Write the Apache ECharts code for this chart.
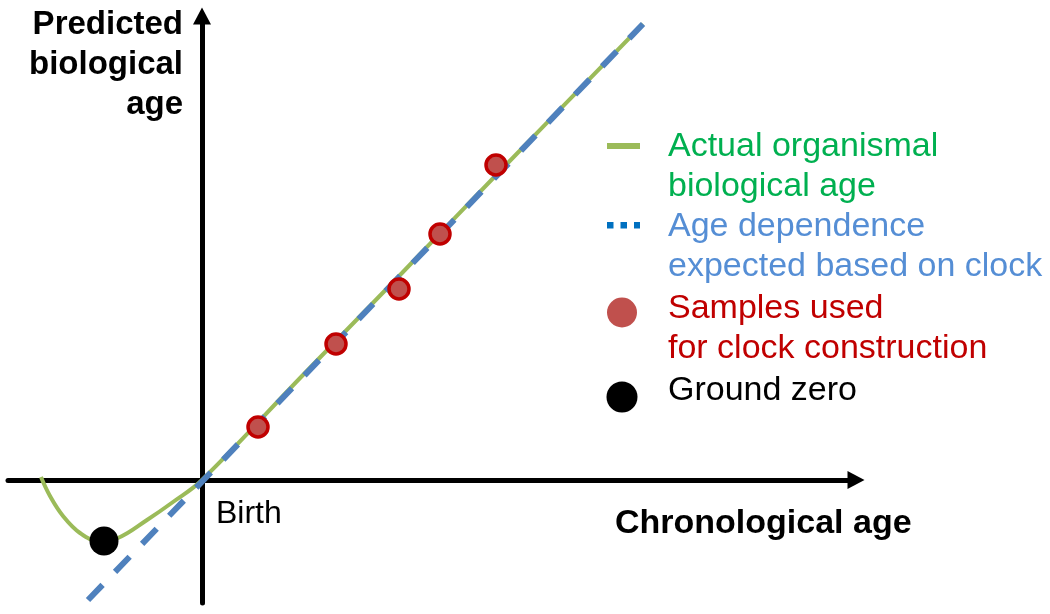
<!DOCTYPE html>
<html>
<head>
<meta charset="utf-8">
<script src="https://cdn.jsdelivr.net/npm/echarts@6/dist/echarts.min.js"></script>
<style>
html,body{margin:0;padding:0;background:#fff;}
#chart{width:1050px;height:614px;}
</style>
</head>
<body>
<div id="chart"></div>
<script>
// ---- data (arbitrary units; 0,0 = birth) ----
const curveX = [-16.1, -15.2, -13.9, -12.2, -10.3, -8.4, -5.5, -2.9, 0, 10, 20, 30, 44.1];
const curveY = [0.3, -1.6, -3.6, -5.3, -6.1, -5.8, -4.0, -2.2, 0, 10.4, 20.7, 31.1, 45.6];
const clockX = [-11.4, 44.1];
const clockY = [-12.0, 45.6];
const sampleX = [5.6, 13.4, 19.7, 23.8, 29.4];
const sampleY = [5.3, 13.6, 19.1, 24.6, 31.5];
const groundZeroX = [-9.8];
const groundZeroY = [-6.1];
const xRange = [-19.4, 65.4];
const yRange = [-12.3, 46.4];
const legendLabels = [
  'Actual organismal\nbiological age',
  'Age dependence\nexpected based on clock',
  'Samples used\nfor clock construction',
  'Ground zero'
];
const xTitle = 'Chronological age';
const yTitle = 'Predicted\nbiological\nage';
const originLabel = 'Birth';

const zip = (a, b) => a.map((v, i) => [v, b[i]]);
const FONT = '"Liberation Sans", Arial, sans-serif';

const chart = echarts.init(document.getElementById('chart'), null, {renderer: 'canvas'});

const axisCommon = {
  type: 'value',
  axisLine: {show: true, onZero: true, symbol: ['none', 'triangle'], symbolSize: [18, 17],
    lineStyle: {color: '#000', width: 5}},
  axisTick: {show: false},
  axisLabel: {show: false},
  splitLine: {show: false}
};

const textStyleBase = {fontFamily: FONT, fontSize: 34, lineHeight: 40};

chart.setOption({
  animation: false,
  backgroundColor: '#fff',
  grid: {left: 8, right: 194, top: 16, bottom: 11, containLabel: false},
  xAxis: Object.assign({}, axisCommon, {min: xRange[0], max: xRange[1]}),
  yAxis: Object.assign({}, axisCommon, {min: yRange[0], max: yRange[1]}),
  series: [
    {
      name: 'Actual organismal biological age',
      type: 'line',
      data: zip(curveX, curveY),
      smooth: 0.4,
      showSymbol: false,
      lineStyle: {color: '#9bbb59', width: 4},
      z: 2
    },
    {
      name: 'Age dependence expected based on clock',
      type: 'line',
      data: zip(clockX, clockY),
      showSymbol: false,
      lineStyle: {color: '#4f81bd', width: 6, type: [21, 18]},
      z: 3
    },
    {
      name: 'Samples used for clock construction',
      type: 'scatter',
      data: zip(sampleX, sampleY),
      symbolSize: 20,
      itemStyle: {color: '#c0504d', borderColor: '#c00000', borderWidth: 3.5, opacity: 1},
      z: 4
    },
    {
      name: 'Ground zero',
      type: 'scatter',
      data: zip(groundZeroX, groundZeroY),
      symbolSize: 29,
      itemStyle: {color: '#000', opacity: 1},
      z: 4
    }
  ],
  graphic: [
    // axis titles
    {type: 'text', x: 183, y: 4.5, z: 10,
      style: Object.assign({}, textStyleBase, {text: yTitle, fontSize: 33, fontWeight: 'bold', fill: '#000', align: 'right', verticalAlign: 'top'})},
    {type: 'text', x: 615, y: 503.5, z: 10,
      style: Object.assign({}, textStyleBase, {text: xTitle, fontWeight: 'bold', fill: '#000', align: 'left', verticalAlign: 'top'})},
    {type: 'text', x: 216, y: 494.5, z: 10,
      style: Object.assign({}, textStyleBase, {text: originLabel, fontSize: 32, fill: '#000', align: 'left', verticalAlign: 'top'})},
    // legend icons
    {type: 'rect', shape: {x: 607, y: 143, width: 33, height: 6}, style: {fill: '#9bbb59'}},
    {type: 'rect', shape: {x: 607, y: 222, width: 6.5, height: 6.5}, style: {fill: '#0070c0'}},
    {type: 'rect', shape: {x: 620.5, y: 222, width: 6.5, height: 6.5}, style: {fill: '#0070c0'}},
    {type: 'rect', shape: {x: 634, y: 222, width: 6, height: 6.5}, style: {fill: '#0070c0'}},
    {type: 'circle', shape: {cx: 622, cy: 312.5, r: 15}, style: {fill: '#c0504d'}},
    {type: 'circle', shape: {cx: 622, cy: 397, r: 15.5}, style: {fill: '#000'}},
    // legend texts
    {type: 'text', x: 668, y: 126.8,
      style: Object.assign({}, textStyleBase, {text: legendLabels[0], fill: '#00b050', align: 'left', verticalAlign: 'top'})},
    {type: 'text', x: 668, y: 206.8,
      style: Object.assign({}, textStyleBase, {text: legendLabels[1], fill: '#558ed5', align: 'left', verticalAlign: 'top'})},
    {type: 'text', x: 668, y: 288.5,
      style: Object.assign({}, textStyleBase, {text: legendLabels[2], fill: '#c00000', align: 'left', verticalAlign: 'top'})},
    {type: 'text', x: 668, y: 370.2,
      style: Object.assign({}, textStyleBase, {text: legendLabels[3], fill: '#000', align: 'left', verticalAlign: 'top'})}
  ]
});
</script>
</body>
</html>
